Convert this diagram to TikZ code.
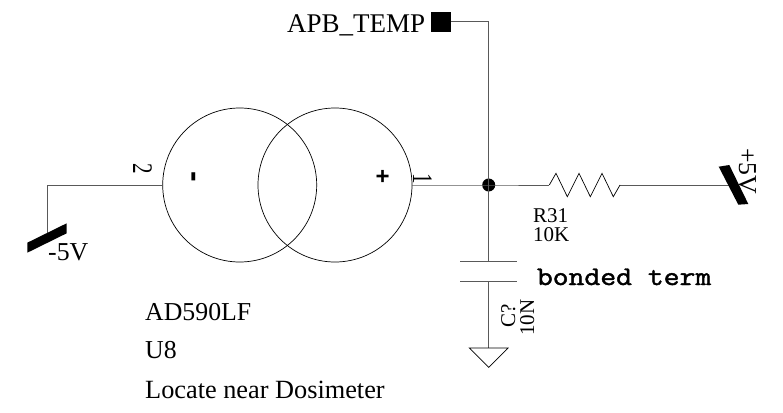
\documentclass[tikz,border=0pt]{standalone}
\usepackage{fontspec}
\setmainfont{Liberation Serif}
\setsansfont{Liberation Sans}
\newfontfamily\bondfont[FakeBold=1.5]{Latin Modern Mono}
\usepackage{tikz}
\tikzset{>=latex}
\usetikzlibrary{calc,positioning}
\tikzset{
  wire/.style={draw=black!65,line width=1pt},
  thin line/.style={draw=black,line width=0.7pt},
  big label/.style={inner sep=0,anchor=base west,font=\fontsize{25.8}{26}\selectfont},
  small label/.style={inner sep=0,anchor=base west,font=\fontsize{21}{22}\selectfont},
  source/.style={circle,thin line,minimum size=154pt,inner sep=0},
}
\begin{document}
\begin{tikzpicture}[x=1pt,y=-1pt]
                \useasboundingbox (0,0) rectangle (783,412);
                \node[source] (srcleft) at (239.7,185) {};
                \node[source] (srcright) at (335,185) {};
                \node[fill=black,circle,inner sep=0,minimum size=13pt] (junction) at (488.7,185) {};
                \node[fill=black,inner sep=0,minimum size=20pt] (pad) at (440.7,22) {};
                \coordinate (corner) at (488.7,22);
                \coordinate (leftbend) at (47,185);
                \coordinate (leftend) at (47,233);
                \coordinate (resin) at (549.3,185);
                \coordinate (resout) at (620,185);
                \coordinate (rightend) at (733,185);
                \coordinate (capupper) at (488.7,261.7);
                \coordinate (caplower) at (488.7,281);
                \coordinate (gnd) at (488.7,348);
                \draw[wire] (srcleft.west) -- (leftbend) -- (leftend);
                \draw[wire] (pad.east) -- (corner) -- (junction.center);
                \draw[wire] (srcright.east) -- (junction.center) -- (resin);
                \draw[wire] (resout) -- (rightend);
                \draw[wire] (junction.center) -- (capupper);
                \draw[wire] (caplower) -- (gnd);
                \draw[wire] (460,261.7) -- (517,261.7);
                \draw[wire] (460,281) -- (517,281);
                \draw[thin line] (resin) -- (556,173.3) -- (567.3,196.7) -- (579,173.3) -- (590.3,196.7)
                    -- (602,173.3) -- (613.3,196.7) -- (resout);
                \draw[thin line] (469.3,348) -- (508,348) -- (488.7,367.3) -- cycle;
                \fill[black] (27.3,242.7) -- (66.7,223.3) -- (66.7,233.3) -- (27.3,252.7) -- cycle;
                \fill[black] (718.7,166.7) -- (729.3,165) -- (748.3,204) -- (738.3,204.7) -- cycle;
                \node[big label,font=\fontsize{27}{27}\selectfont] (temp) at (287,32.7) {APB\_TEMP};
                \node[big label] (minusfive) at (48,260.7) {-5V};
                \node[big label,rotate=-90] (plusfive) at (739,148) {+5V};
                \node[big label] (part) at (145,320) {AD590LF};
                \node[big label] (refdes) at (145,358) {U8};
                \node[big label,font=\fontsize{26.3}{27}\selectfont] (note) at (145,398) {Locate near Dosimeter};
                \node[small label,rotate=-90] (pintwo) at (133,163) {\scalebox{1}[1.35]{2}};
                \node[small label,rotate=-90] (pinone) at (413,173) {\scalebox{1}[1.35]{1}};
                \node[small label] (resname) at (533,222) {R31};
                \node[small label] (resval) at (533,241.7) {10K};
                \node[small label,rotate=90] (capname) at (515,328) {C?};
                \node[small label,rotate=90] (capval) at (534,336) {10N};
                \node[inner sep=0,anchor=base west,font=\fontsize{27}{27}\selectfont\bondfont] (bonded) at (536.7,285) {\scalebox{1.14}[1]{bonded term}};
                \node[inner sep=0,rotate=-90,font=\fontsize{32}{32}\selectfont\sffamily\bfseries] (minus) at (190.7,176.7) {-};
                \node[inner sep=0,font=\fontsize{24}{24}\selectfont\sffamily\bfseries] (plus) at (382.7,177) {+};
            \end{tikzpicture}
\end{document}
